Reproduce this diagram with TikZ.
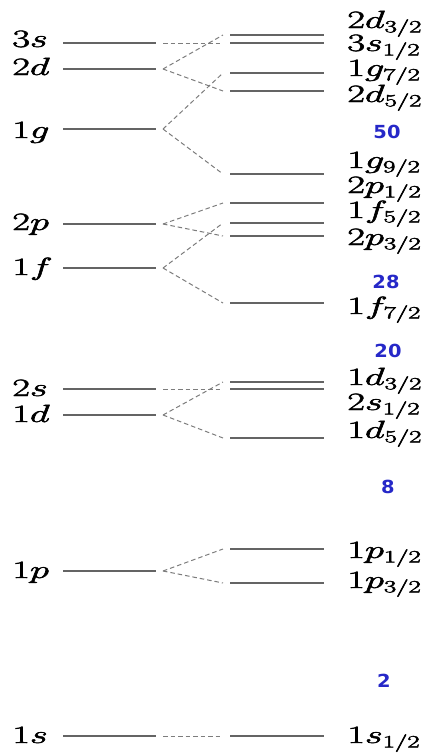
\documentclass[tikz,border=0pt]{standalone}
\usepackage{fontspec}
\newfontfamily\numfont{DejaVu Sans}
\definecolor{magic}{RGB}{38,40,200}
\definecolor{lvl}{RGB}{100,100,100}
\definecolor{dsh}{RGB}{125,125,125}
\newcommand\heavytext{\special{pdf:literal direct 2 Tr 0.45 w}}
\begin{document}
\begin{tikzpicture}[x=1pt,y=-1pt,
  level/.style={draw=lvl,line width=1.3pt},
  split/.style={draw=dsh,line width=1pt,dash pattern=on 4.5pt off 3pt},
  lab/.style={inner sep=0pt,anchor=base west,xscale=1.55,font=\fontsize{26}{26}\selectfont\heavytext},
  magicnum/.style={inner sep=0pt,anchor=center,text=magic,xscale=1.08,font=\numfont\bfseries\fontsize{18}{18}\selectfont}]
\useasboundingbox (0,0) rectangle (430,756);
% left (no spin-orbit) levels
\foreach \n/\y in {3s/43,2d/69,1g/129,2p/224,1f/268,2s/389,1d/415,1p/571,1s/736}{
  \coordinate (\n-a) at (63,\y);
  \coordinate (\n-b) at (156,\y);
  \coordinate (\n-c) at (163,\y);
  \draw[level] (\n-a) -- (\n-b);
}
% right (spin-orbit split) levels
\foreach \n/\y in {2d3/35,3s1/43,1g7/73,2d5/91,1g9/174,2p1/203,1f5/223,2p3/236,1f7/303,1d3/382,2s1/389,1d5/438,1p1/549,1p3/583,1s1/736}{
  \coordinate (\n-c) at (223,\y);
  \coordinate (\n-a) at (230,\y);
  \coordinate (\n-b) at (324,\y);
  \draw[level] (\n-a) -- (\n-b);
}
% splitting connectors
\foreach \l/\r in {3s/3s1,2d/2d3,2d/2d5,1g/1g7,1g/1g9,2p/2p1,2p/2p3,1f/1f5,1f/1f7,2s/2s1,1d/1d3,1d/1d5,1p/1p1,1p/1p3,1s/1s1}{
  \draw[split] (\l-c) -- (\r-c);
}
% left labels
\node[lab] (t3s) at (12,47) {$3s$};
\node[lab] (t2d) at (12,75) {$2d$};
\node[lab] (t1g) at (12,138) {$1g$};
\node[lab] (t2p) at (12,230) {$2p$};
\node[lab] (t1f) at (12,275) {$1f$};
\node[lab] (t2s) at (12,396) {$2s$};
\node[lab] (t1d) at (12,422) {$1d$};
\node[lab] (t1p) at (12,578) {$1p$};
\node[lab] (t1s) at (12,743) {$1s$};
% right labels
\node[lab] (r2d3) at (347,28) {$2d_{3/2}$};
\node[lab] (r3s1) at (347,51) {$3s_{1/2}$};
\node[lab] (r1g7) at (347,76) {$1g_{7/2}$};
\node[lab] (r2d5) at (347,102) {$2d_{5/2}$};
\node[lab] (r1g9) at (347,168) {$1g_{9/2}$};
\node[lab] (r2p1) at (347,193) {$2p_{1/2}$};
\node[lab] (r1f5) at (347,218) {$1f_{5/2}$};
\node[lab] (r2p3) at (347,245) {$2p_{3/2}$};
\node[lab] (r1f7) at (347,314) {$1f_{7/2}$};
\node[lab] (r1d3) at (347,385) {$1d_{3/2}$};
\node[lab] (r2s1) at (347,410) {$2s_{1/2}$};
\node[lab] (r1d5) at (347,438) {$1d_{5/2}$};
\node[lab] (r1p1) at (347,558) {$1p_{1/2}$};
\node[lab] (r1p3) at (347,588) {$1p_{3/2}$};
\node[lab] (r1s1) at (347,743) {$1s_{1/2}$};
% magic numbers
\node[magicnum] (m50) at (387,132) {50};
\node[magicnum] (m28) at (386,282) {28};
\node[magicnum] (m20) at (388,351) {20};
\node[magicnum] (m8) at (388,487) {8};
\node[magicnum] (m2) at (384,681) {2};
\end{tikzpicture}
\end{document}
